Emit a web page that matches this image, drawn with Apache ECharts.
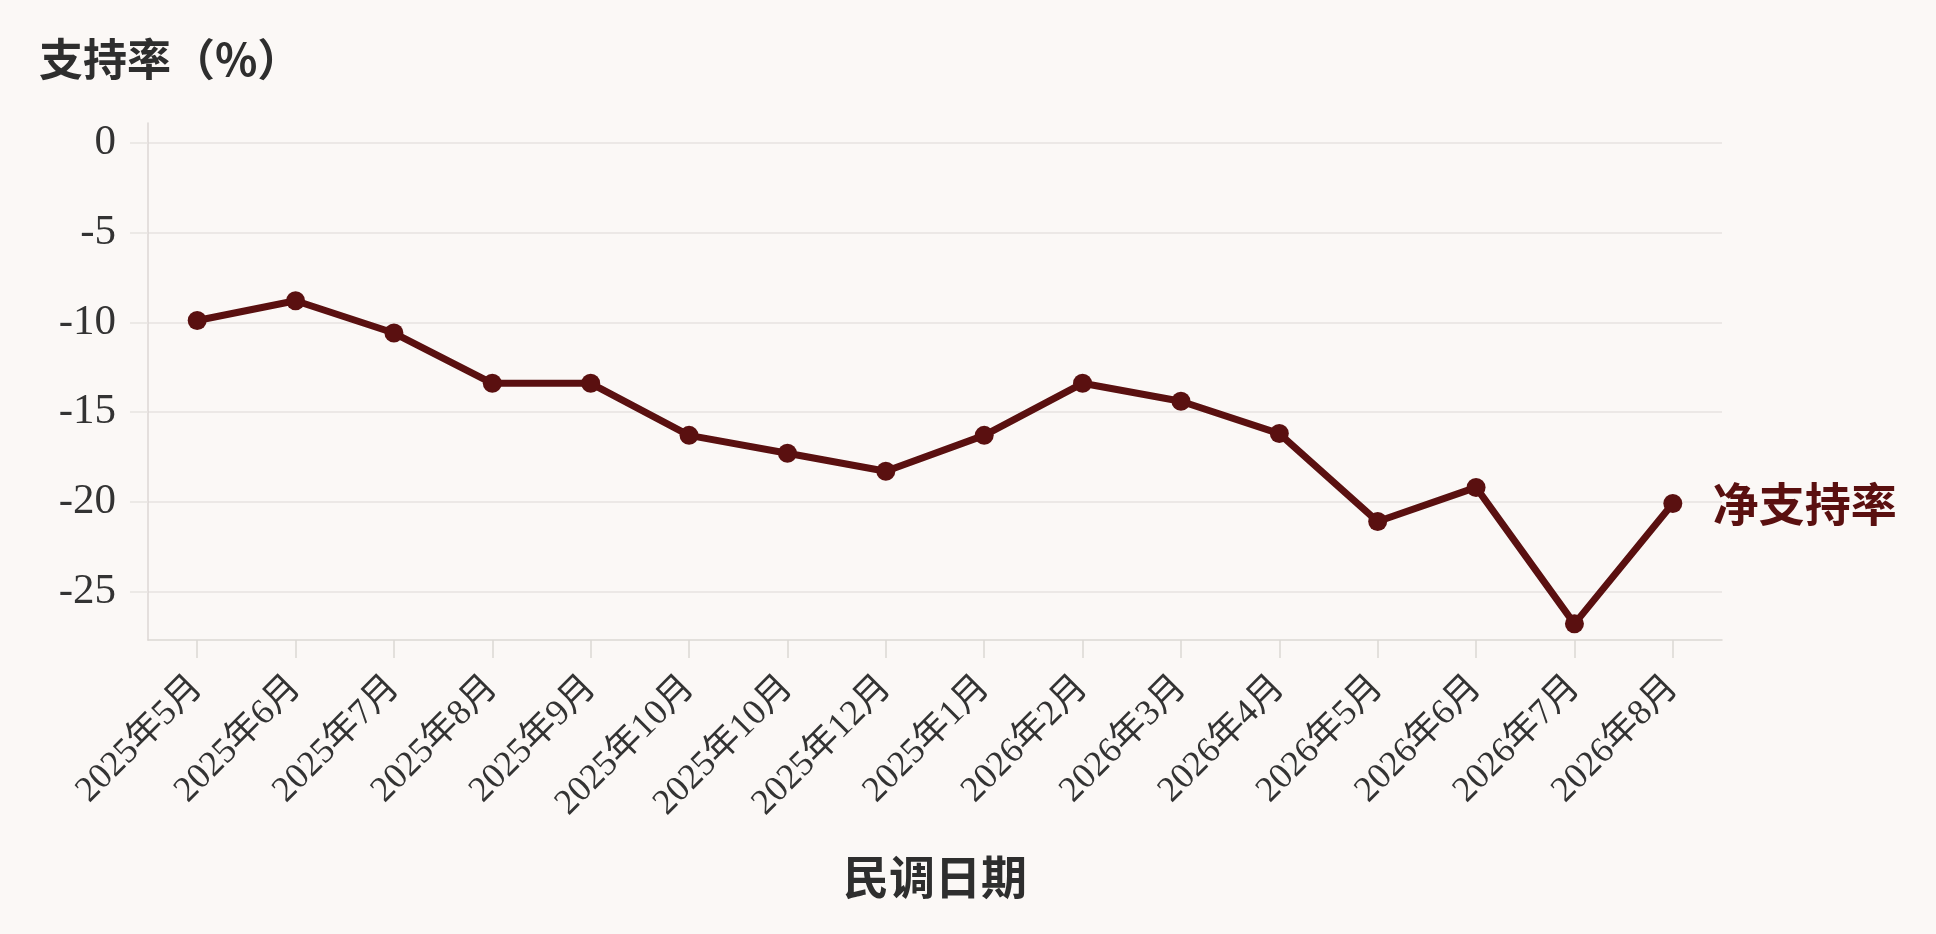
<!DOCTYPE html>
<html>
<head>
<meta charset="utf-8">
<script src="https://cdn.jsdelivr.net/npm/echarts@6/dist/echarts.min.js"></script>
<style>
html,body{margin:0;padding:0;background:#fbf8f6;}
#c{width:1936px;height:934px;}
</style>
</head>
<body>
<div id="c"></div>
<script>
const categories = ['2025年5月','2025年6月','2025年7月','2025年8月','2025年9月','2025年10月','2025年10月','2025年12月','2025年1月','2026年2月','2026年3月','2026年4月','2026年5月','2026年6月','2026年7月','2026年8月'];
const netSupport = [-9.9, -8.8, -10.6, -13.4, -13.4, -16.3, -17.3, -18.3, -16.3, -13.4, -14.4, -16.2, -21.1, -19.2, -26.8, -20.1];
const yTicks = [0, -5, -10, -15, -20, -25];
const seriesName = '净支持率';
const yTitle = '支持率（%）';
const xTitle = '民调日期';

const serif = "'Liberation Serif','Noto Sans CJK SC',serif";
const cjk = "'Noto Sans CJK SC','Liberation Serif',sans-serif";
const gridColor = '#e7e3e1';
const lineColor = '#5a1010';

const chart = echarts.init(document.getElementById('c'));
chart.setOption({
  backgroundColor: '#fbf8f6',
  animation: false,
  title: {
    text: yTitle,
    left: 34,
    top: 32,
    textStyle: {fontFamily: cjk, fontSize: 44, fontWeight: 'bold', color: '#2e2e2e'}
  },
  grid: {left: 148, right: 214, top: 123, bottom: 294, containLabel: false},
  xAxis: {
    type: 'category',
    data: categories,
    boundaryGap: true,
    name: xTitle,
    nameLocation: 'middle',
    nameGap: 214,
    nameTextStyle: {fontFamily: cjk, fontSize: 46, fontWeight: 'bold', color: '#2e2e2e'},
    axisLine: {show: true, onZero: false, lineStyle: {color: '#dcd7d4', width: 1.5}},
    axisTick: {show: true, alignWithLabel: true, length: 18, lineStyle: {color: '#dcd7d4', width: 1.5}},
    axisLabel: {rotate: 45, margin: 42, interval: 0, fontFamily: serif, fontSize: 36, color: '#333'},
    splitLine: {show: false}
  },
  yAxis: {
    type: 'value',
    min: -27.7,
    max: 1.1,
    axisLine: {show: true, lineStyle: {color: '#dcd7d4', width: 1.5}},
    axisTick: {show: true, length: 18, customValues: yTicks, lineStyle: {color: gridColor, width: 1.5}},
    axisLabel: {customValues: yTicks, margin: 32, fontFamily: serif, fontSize: 43, color: '#333'},
    splitLine: {show: true, lineStyle: {color: gridColor, width: 1.5}}
  },
  series: [{
    name: seriesName,
    type: 'line',
    data: netSupport,
    symbol: 'circle',
    symbolSize: 19,
    showSymbol: true,
    lineStyle: {color: lineColor, width: 7},
    itemStyle: {color: lineColor},
    endLabel: {
      show: true,
      formatter: seriesName,
      distance: 40,
      fontFamily: cjk,
      fontSize: 46,
      fontWeight: 'bold',
      color: lineColor
    }
  }]
});
</script>
</body>
</html>
